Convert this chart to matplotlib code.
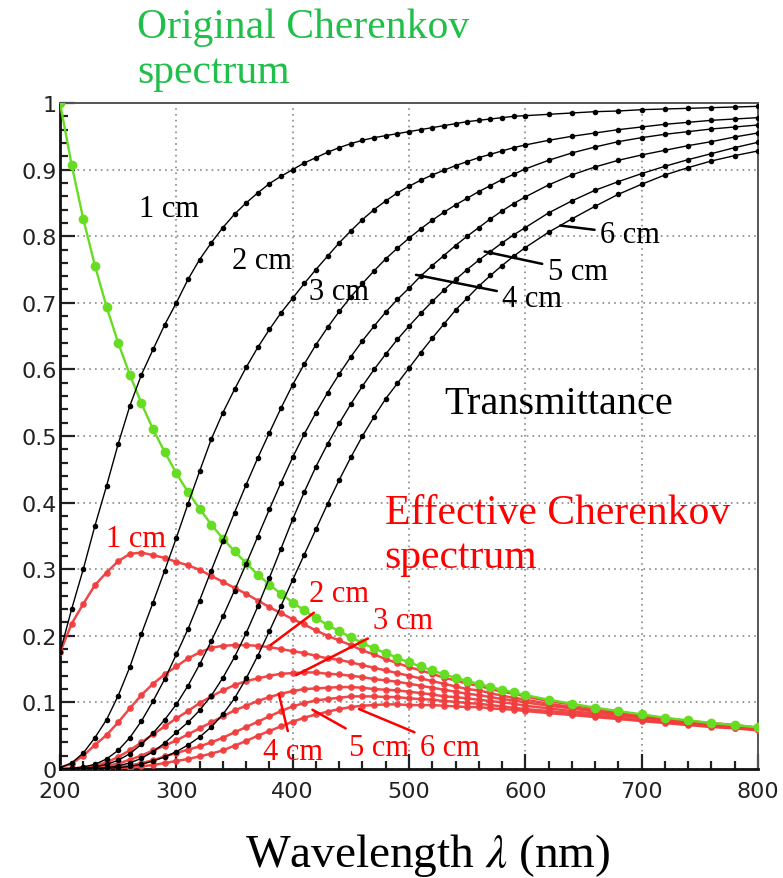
import matplotlib
matplotlib.use("Agg")
import matplotlib.pyplot as plt
from matplotlib.ticker import MultipleLocator

# wavelength grid (nm)
wl = [200, 210, 220, 230, 240, 250, 260, 270, 280, 290,
      300, 310, 320, 330, 340, 350, 360, 370, 380, 390,
      400, 410, 420, 430, 440, 450, 460, 470, 480, 490,
      500, 510, 520, 530, 540, 550, 560, 570, 580, 590,
      600, 620, 640, 660, 680, 700, 720, 740, 760, 780, 800]

# original Cherenkov spectrum (normalised)
orig = [1.000, 0.907, 0.826, 0.756, 0.694, 0.640, 0.592, 0.549, 0.510, 0.476,
        0.444, 0.416, 0.391, 0.367, 0.346, 0.327, 0.309, 0.292, 0.277, 0.263,
        0.250, 0.238, 0.227, 0.216, 0.207, 0.198, 0.189, 0.181, 0.174, 0.167,
        0.160, 0.154, 0.148, 0.142, 0.137, 0.132, 0.128, 0.123, 0.119, 0.115,
        0.111, 0.104, 0.098, 0.092, 0.087, 0.082, 0.077, 0.073, 0.069, 0.066, 0.0625]

# transmittance for 1..6 cm
t1 = [0.175, 0.240, 0.300, 0.365, 0.425, 0.488, 0.545, 0.592, 0.630, 0.667,
      0.700, 0.735, 0.765, 0.790, 0.813, 0.833, 0.850, 0.865, 0.879, 0.890,
      0.900, 0.910, 0.918, 0.926, 0.933, 0.939, 0.944, 0.948, 0.951, 0.954,
      0.957, 0.960, 0.963, 0.966, 0.969, 0.972, 0.974, 0.976, 0.978, 0.980,
      0.981, 0.983, 0.985, 0.987, 0.988, 0.990, 0.991, 0.992, 0.993, 0.994, 0.995]
t2 = [0.002, 0.009, 0.024, 0.047, 0.074, 0.110, 0.153, 0.203, 0.250, 0.298,
      0.347, 0.398, 0.447, 0.495, 0.535, 0.570, 0.603, 0.633, 0.660, 0.685,
      0.707, 0.729, 0.750, 0.770, 0.790, 0.808, 0.825, 0.840, 0.853, 0.865,
      0.875, 0.884, 0.892, 0.899, 0.906, 0.912, 0.918, 0.923, 0.928, 0.933,
      0.937, 0.944, 0.950, 0.955, 0.960, 0.964, 0.968, 0.971, 0.974, 0.976, 0.978]
t3 = [0.000, 0.001, 0.003, 0.007, 0.015, 0.028, 0.047, 0.072, 0.102, 0.135,
      0.172, 0.210, 0.253, 0.298, 0.342, 0.385, 0.427, 0.467, 0.505, 0.542,
      0.577, 0.608, 0.637, 0.663, 0.687, 0.709, 0.729, 0.748, 0.766, 0.782,
      0.797, 0.811, 0.824, 0.836, 0.847, 0.857, 0.867, 0.876, 0.885, 0.893,
      0.901, 0.914, 0.925, 0.934, 0.942, 0.948, 0.953, 0.957, 0.961, 0.964, 0.967]
t4 = [0.000, 0.000, 0.001, 0.003, 0.007, 0.013, 0.023, 0.037, 0.054, 0.074,
      0.097, 0.125, 0.157, 0.192, 0.229, 0.268, 0.308, 0.349, 0.390, 0.430,
      0.468, 0.503, 0.535, 0.565, 0.593, 0.619, 0.643, 0.665, 0.686, 0.705,
      0.722, 0.740, 0.756, 0.771, 0.786, 0.800, 0.813, 0.826, 0.838, 0.849,
      0.859, 0.877, 0.892, 0.904, 0.914, 0.922, 0.929, 0.936, 0.942, 0.949, 0.955]
t5 = [0.000, 0.000, 0.000, 0.001, 0.002, 0.005, 0.009, 0.016, 0.026, 0.039,
      0.055, 0.070, 0.088, 0.110, 0.137, 0.168, 0.204, 0.244, 0.287, 0.331,
      0.375, 0.416, 0.454, 0.488, 0.519, 0.548, 0.575, 0.600, 0.623, 0.645,
      0.665, 0.684, 0.702, 0.719, 0.735, 0.750, 0.764, 0.777, 0.790, 0.802,
      0.813, 0.835, 0.853, 0.869, 0.882, 0.894, 0.905, 0.915, 0.924, 0.933, 0.941]
t6 = [0.000, 0.000, 0.000, 0.000, 0.001, 0.002, 0.004, 0.007, 0.012, 0.018,
      0.026, 0.036, 0.048, 0.063, 0.082, 0.106, 0.136, 0.170, 0.207, 0.245,
      0.284, 0.322, 0.360, 0.398, 0.434, 0.468, 0.500, 0.529, 0.556, 0.579,
      0.602, 0.625, 0.647, 0.668, 0.689, 0.707, 0.725, 0.741, 0.756, 0.770,
      0.783, 0.806, 0.826, 0.845, 0.863, 0.878, 0.892, 0.903, 0.913, 0.921, 0.928]

# effective Cherenkov spectrum for 1..6 cm
e1 = [0.175, 0.218, 0.248, 0.276, 0.295, 0.312, 0.323, 0.325, 0.321, 0.317,
      0.311, 0.306, 0.299, 0.290, 0.281, 0.272, 0.263, 0.253, 0.243, 0.234,
      0.225, 0.217, 0.208, 0.200, 0.193, 0.186, 0.178, 0.172, 0.165, 0.159,
      0.153, 0.148, 0.143, 0.137, 0.133, 0.128, 0.125, 0.120, 0.116, 0.113,
      0.109, 0.102, 0.097, 0.091, 0.086, 0.081, 0.076, 0.072, 0.069, 0.066, 0.062]
e2 = [0.002, 0.008, 0.020, 0.036, 0.051, 0.070, 0.091, 0.111, 0.128, 0.142,
      0.154, 0.166, 0.175, 0.182, 0.185, 0.186, 0.186, 0.185, 0.183, 0.180,
      0.177, 0.174, 0.170, 0.166, 0.164, 0.160, 0.156, 0.152, 0.148, 0.144,
      0.140, 0.136, 0.132, 0.128, 0.124, 0.120, 0.118, 0.114, 0.110, 0.107,
      0.104, 0.098, 0.093, 0.088, 0.084, 0.079, 0.075, 0.071, 0.067, 0.064, 0.061]
e3 = [0.000, 0.001, 0.002, 0.005, 0.010, 0.018, 0.028, 0.040, 0.052, 0.064,
      0.076, 0.087, 0.099, 0.109, 0.118, 0.126, 0.132, 0.136, 0.140, 0.143,
      0.144, 0.145, 0.145, 0.143, 0.142, 0.140, 0.138, 0.135, 0.133, 0.131,
      0.128, 0.125, 0.122, 0.119, 0.116, 0.113, 0.111, 0.108, 0.105, 0.103,
      0.100, 0.095, 0.091, 0.086, 0.082, 0.078, 0.073, 0.070, 0.066, 0.064, 0.060]
e4 = [0.000, 0.000, 0.001, 0.002, 0.005, 0.008, 0.014, 0.020, 0.028, 0.035,
      0.043, 0.052, 0.061, 0.070, 0.079, 0.088, 0.095, 0.102, 0.108, 0.113,
      0.117, 0.120, 0.121, 0.122, 0.123, 0.123, 0.122, 0.120, 0.119, 0.118,
      0.116, 0.114, 0.112, 0.109, 0.108, 0.106, 0.104, 0.102, 0.100, 0.098,
      0.095, 0.091, 0.087, 0.083, 0.080, 0.076, 0.072, 0.068, 0.065, 0.063, 0.060]
e5 = [0.000, 0.000, 0.000, 0.001, 0.001, 0.003, 0.005, 0.009, 0.013, 0.019,
      0.024, 0.029, 0.034, 0.040, 0.047, 0.055, 0.063, 0.071, 0.079, 0.087,
      0.094, 0.099, 0.103, 0.105, 0.107, 0.109, 0.109, 0.109, 0.108, 0.108,
      0.106, 0.105, 0.104, 0.102, 0.101, 0.099, 0.098, 0.096, 0.094, 0.092,
      0.090, 0.087, 0.084, 0.080, 0.077, 0.073, 0.070, 0.067, 0.064, 0.062, 0.059]
e6 = [0.000, 0.000, 0.000, 0.000, 0.001, 0.001, 0.002, 0.004, 0.006, 0.009,
      0.012, 0.015, 0.019, 0.023, 0.028, 0.035, 0.042, 0.050, 0.057, 0.064,
      0.071, 0.077, 0.082, 0.086, 0.090, 0.093, 0.095, 0.096, 0.097, 0.097,
      0.096, 0.096, 0.096, 0.095, 0.094, 0.093, 0.093, 0.091, 0.090, 0.089,
      0.087, 0.084, 0.081, 0.078, 0.075, 0.072, 0.069, 0.066, 0.063, 0.061, 0.058]

trans = [t1, t2, t3, t4, t5, t6]
eff = [e1, e2, e3, e4, e5, e6]

plt.rcParams['mathtext.fontset'] = 'stix'
serif = 'Liberation Serif'

fig = plt.figure(figsize=(7.83, 8.79), dpi=100)
ax = fig.add_axes([60 / 783, 109 / 879, 698 / 783, 666 / 879])

for e in eff:
    ax.plot(wl, e, '-o', color='#f03e3e', lw=1.8, ms=4.8, mec='none', alpha=0.95, zorder=3)
ax.plot(wl, orig, '-o', color='#66dd22', lw=1.7, ms=7, mec='none', zorder=4)
for t in trans:
    ax.plot(wl, t, '-o', color='black', lw=1.0, ms=4.0, mec='none', zorder=5)

ax.set_xlim(200, 800)
ax.set_ylim(0, 1)
ax.xaxis.set_major_locator(MultipleLocator(100))
ax.xaxis.set_minor_locator(MultipleLocator(20))
ax.yaxis.set_minor_locator(MultipleLocator(0.02))
ax.set_yticks([0, 0.1, 0.2, 0.3, 0.4, 0.5, 0.6, 0.7, 0.8, 0.9, 1.0])
ax.set_yticklabels(['0', '0.1', '0.2', '0.3', '0.4', '0.5', '0.6', '0.7', '0.8', '0.9', '1'])
ax.tick_params(which='both', direction='in', top=False, right=False, width=1.6, colors='#222')
ax.tick_params(which='major', length=11, labelsize=16)
ax.tick_params(which='minor', length=6)
ax.tick_params(axis='x', which='major', pad=9)
ax.tick_params(axis='y', which='major', pad=2.5)
ax.grid(True, which='major', color='#888888', linestyle=(0, (1, 2.5)), lw=1.2)
ax.set_axisbelow(True)
for side in ['left', 'bottom']:
    ax.spines[side].set_linewidth(2.0)
    ax.spines[side].set_color('#111')
for side in ['top', 'right']:
    ax.spines[side].set_linewidth(1.4)
    ax.spines[side].set_color('#555')

# curve labels, transmittance
blk = dict(fontsize=22, family=serif, color='black', ha='center', va='center')
ax.text(294, 0.842, '1 cm', **blk)
ax.text(374, 0.764, '2 cm', **blk)
ax.text(440, 0.717, '3 cm', **blk)
line_k = dict(arrowstyle='-', color='black', lw=1.8, shrinkA=2, shrinkB=0)
ax.annotate('4 cm', xy=(506, 0.742), xytext=(606, 0.707), arrowprops=line_k, zorder=6, **blk)
ax.annotate('5 cm', xy=(565, 0.777), xytext=(645, 0.747), arrowprops=line_k, zorder=6, **blk)
ax.annotate('6 cm', xy=(630, 0.816), xytext=(690, 0.803), arrowprops=line_k, zorder=6, **blk)

# curve labels, effective spectrum
red = dict(fontsize=22, family=serif, color='red', ha='center', va='center')
line_r = dict(arrowstyle='-', color='red', lw=1.8, shrinkA=2, shrinkB=0)
ax.text(265, 0.346, '1 cm', **red)
ax.annotate('2 cm', xy=(381, 0.186), xytext=(440, 0.263), arrowprops=line_r, zorder=6, **red)
ax.annotate('3 cm', xy=(403, 0.141), xytext=(495, 0.223), arrowprops=line_r, zorder=6, **red)
ax.annotate('4 cm', xy=(388, 0.113), xytext=(400, 0.027), arrowprops=line_r, zorder=6, **red)
ax.annotate('5 cm', xy=(417, 0.089), xytext=(474, 0.033), arrowprops=line_r, zorder=6, **red)
ax.annotate('6 cm', xy=(457, 0.090), xytext=(535, 0.033), arrowprops=line_r, zorder=6, **red)

ax.text(629, 0.549, 'Transmittance', fontsize=29, family=serif, color='black',
        ha='center', va='center', zorder=6)
ax.text(479, 0.352, 'Effective Cherenkov\nspectrum', fontsize=30, family=serif, color='red',
        ha='left', va='center', linespacing=1.2, zorder=6)

fig.text(137 / 783, 0.99, 'Original Cherenkov\nspectrum', fontsize=30, family=serif,
         color='#1fbf4a', ha='left', va='top', linespacing=1.2)
fig.text(0.546, 0.027, r'Wavelength $\lambda$ (nm)', fontsize=34, family=serif,
         color='black', ha='center', va='center')

fig.savefig('out.png', dpi=100)
